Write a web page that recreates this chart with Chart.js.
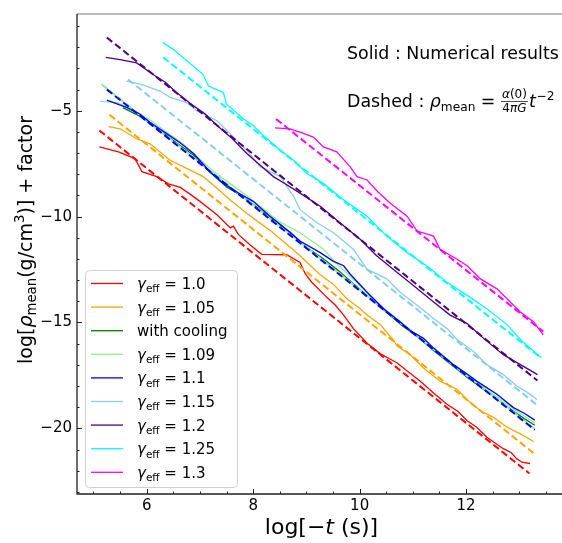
<!DOCTYPE html>
<html>
<head>
<meta charset="utf-8">
<script src="https://cdn.jsdelivr.net/npm/chart.js@4.4.1/dist/chart.umd.min.js"></script>
<style>
  html, body { margin: 0; padding: 0; background: #fff; overflow: hidden; }
  #wrap { width: 562px; height: 543px; overflow: hidden; }
  canvas { display: block; }
</style>
</head>
<body>
<div id="wrap"><canvas id="densityChart" width="580" height="543"></canvas></div>
<script>
// axis ticks
const xTicks = [6, 8, 10, 12];
const yTicks = [-5, -10, -15, -20];

// legend entries (gamma value, null = "with cooling")
const gammaLabels = ['1.0', '1.05', null, '1.09', '1.1', '1.15', '1.2', '1.25', '1.3'];
const colors = ['#ff0000', '#ffa500', '#008000', '#90ee90', '#0000ff', '#87ceeb', '#4b0082', '#00ffff', '#ff00ff'];

// solid: numerical results, [log(-t), log(rho) + factor]
const red = [[5.11,-6.71],[5.47,-6.94],[5.78,-7.26],[5.91,-7.88],[6.19,-8.11],[6.41,-8.45],[6.63,-8.62],[6.82,-8.95],[7.0,-9.28],[7.32,-9.91],[7.57,-10.53],[7.63,-10.45],[7.72,-10.84],[7.95,-11.35],[8.16,-11.78],[8.63,-11.8],[8.88,-12.16],[8.98,-12.71],[9.1,-13.1],[9.38,-13.8],[9.55,-14.2],[9.7,-14.65],[9.88,-15.28],[10.14,-15.98],[10.39,-16.48],[10.55,-16.7],[10.7,-16.9],[10.9,-17.3],[11.14,-17.77],[11.4,-18.35],[11.64,-18.86],[11.85,-19.2],[12.02,-19.64],[12.2,-19.95],[12.39,-20.42],[12.55,-20.7],[12.7,-20.96],[12.85,-21.15],[12.95,-21.43],[13.05,-21.6],[13.2,-21.66]];
const orange = [[5.28,-5.75],[5.5,-5.85],[5.81,-6.32],[6.06,-6.56],[6.25,-6.95],[6.44,-7.34],[6.75,-7.72],[7.06,-8.11],[7.32,-8.66],[7.57,-9.21],[7.82,-9.72],[8.07,-10.2],[8.32,-10.65],[8.57,-11.18],[8.88,-11.85],[9.07,-12.3],[9.26,-12.75],[9.51,-13.2],[9.76,-13.88],[10.01,-14.35],[10.14,-14.65],[10.39,-15.1],[10.64,-15.85],[10.7,-16.1],[10.95,-16.52],[11.2,-17.15],[11.51,-17.77],[11.83,-18.15],[12.02,-18.65],[12.27,-19.17],[12.52,-19.49],[12.77,-19.95],[13.02,-20.26],[13.27,-20.62]];
const cooling = [[5.55,-4.85],[5.87,-5.25],[6.2,-5.85],[6.5,-6.4],[6.88,-7.1],[7.19,-7.9],[7.5,-8.6],[7.8,-9.05],[8.1,-9.6],[8.4,-10.2],[8.7,-10.75],[9.0,-11.45],[9.3,-11.95],[9.6,-12.55],[9.9,-13.2],[10.2,-13.85],[10.5,-14.5],[10.8,-15.15],[11.1,-15.7],[11.4,-16.35],[11.7,-16.95],[12.0,-17.55],[12.3,-18.1],[12.6,-18.65],[12.9,-19.2],[13.1,-19.55],[13.29,-19.85]];
const lightgreen = [[5.12,-4.56],[5.45,-4.62],[5.8,-5.05],[6.1,-5.5],[6.4,-6.05],[6.7,-6.6],[7.0,-7.3],[7.3,-7.95],[7.6,-8.5],[7.9,-9.05],[8.2,-9.65],[8.5,-10.25],[8.88,-10.76],[9.32,-11.54],[9.6,-12.3],[9.9,-13.0],[10.2,-13.75],[10.5,-14.45],[10.8,-15.1],[11.1,-15.65],[11.4,-16.3],[11.7,-16.9],[12.0,-17.5],[12.3,-18.0],[12.6,-18.55],[12.9,-19.1],[13.29,-19.75]];
const blue = [[5.25,-4.5],[5.62,-4.84],[5.87,-5.15],[6.06,-5.54],[6.38,-6.09],[6.62,-6.5],[6.88,-7.02],[7.19,-7.88],[7.44,-8.43],[7.7,-8.85],[8.0,-9.28],[8.3,-9.95],[8.6,-10.55],[8.88,-11.15],[9.26,-11.7],[9.5,-12.1],[9.7,-12.32],[9.82,-12.71],[10.14,-13.57],[10.45,-14.35],[10.76,-14.97],[10.95,-15.38],[11.2,-15.75],[11.39,-16.21],[11.76,-16.99],[12.0,-17.4],[12.2,-17.77],[12.58,-18.39],[12.89,-19.02],[13.1,-19.3],[13.29,-19.61]];
const skyblue = [[5.62,-3.6],[5.9,-3.75],[6.25,-4.07],[6.44,-4.37],[6.75,-4.61],[6.94,-5.0],[7.32,-5.47],[7.57,-6.09],[7.88,-6.87],[8.13,-7.64],[8.51,-8.11],[8.76,-9.05],[8.88,-9.67],[9.2,-10.29],[9.51,-10.76],[9.88,-11.54],[10.14,-12.48],[10.51,-12.94],[10.76,-13.57],[11.08,-14.19],[11.39,-14.81],[11.64,-15.28],[11.83,-15.8],[12.14,-16.37],[12.39,-16.99],[12.7,-17.46],[12.95,-18.0],[13.15,-18.3],[13.33,-18.63]];
const indigo = [[5.23,-2.48],[5.5,-2.58],[5.81,-2.74],[6.12,-3.29],[6.35,-3.65],[6.56,-4.14],[6.88,-4.77],[7.1,-5.15],[7.32,-5.7],[7.6,-6.3],[7.88,-7.02],[8.1,-7.5],[8.38,-8.11],[8.6,-8.45],[8.88,-8.89],[9.26,-9.51],[9.63,-10.29],[10.01,-11.07],[10.32,-11.85],[10.7,-12.63],[11.01,-13.25],[11.39,-14.03],[11.7,-14.65],[12.02,-15.05],[12.33,-15.75],[12.7,-16.52],[13.02,-16.99],[13.2,-17.25],[13.34,-17.46]];
const cyan = [[6.3,-1.78],[6.5,-2.1],[6.69,-2.51],[6.88,-2.9],[7.06,-3.29],[7.16,-3.83],[7.44,-4.14],[7.5,-4.69],[7.82,-5.39],[8.0,-5.7],[8.19,-6.17],[8.51,-6.87],[8.76,-7.34],[9.01,-7.96],[9.32,-8.43],[9.7,-9.21],[10.14,-9.98],[10.51,-10.92],[10.89,-11.7],[11.26,-12.32],[11.64,-13.1],[12.02,-13.72],[12.39,-14.35],[12.77,-15.1],[13.02,-15.8],[13.2,-16.2],[13.41,-16.65]];
const magenta = [[8.41,-5.81],[8.69,-5.86],[8.88,-6.01],[9.13,-6.24],[9.32,-6.71],[9.57,-6.94],[9.82,-7.64],[9.95,-8.11],[10.14,-8.27],[10.35,-8.85],[10.57,-9.36],[10.89,-9.98],[11.08,-10.68],[11.39,-10.92],[11.51,-11.54],[11.83,-12.01],[12.02,-12.32],[12.27,-12.94],[12.58,-13.41],[12.83,-14.03],[13.02,-14.5],[13.27,-14.97],[13.45,-15.59]];

// dashed: analytic rho_mean ~ t^-2, start and end points (null = no dashed line)
const dashed = [
  [[5.11,-5.93],[13.19,-22.13]],
  [[5.30,-5.19],[13.27,-21.17]],
  null,
  [[5.15,-3.75],[13.29,-20.03]],
  [[5.25,-3.99],[13.29,-20.07]],
  [[5.65,-3.52],[13.33,-18.89]],
  [[5.25,-1.54],[13.34,-17.74]],
  [[6.31,-2.48],[13.41,-16.68]],
  [[8.43,-5.39],[13.45,-15.43]]
];

const solids = [red, orange, cooling, lightgreen, blue, skyblue, indigo, cyan, magenta];

const FONT = '"DejaVu Sans", sans-serif';
const toPts = arr => arr.map(p => ({ x: p[0], y: p[1] }));

// build datasets, later series on top (like matplotlib)
const datasets = [];
solids.forEach((s, i) => {
  datasets.push({
    data: toPts(s), borderColor: colors[i], borderWidth: 1.3,
    pointRadius: 0, tension: 0, fill: false, order: -(i * 2)
  });
  if (dashed[i]) {
    datasets.push({
      data: toPts(dashed[i]), borderColor: colors[i], borderWidth: 2,
      borderDash: [7, 3.5], pointRadius: 0, fill: false, order: -(i * 2 + 1)
    });
  }
});

// helpers for mathtext-like labels
function buildRuns(ctx, parts, base) {
  return parts.map(p => {
    const size = base * (p.s || 1);
    const font = (p.i ? 'italic ' : '') + size + 'px ' + FONT;
    ctx.font = font;
    return { t: p.t, font, dy: (p.dy || 0) * base, w: ctx.measureText(p.t).width, g: (p.g || 0) * base };
  });
}
function runsWidth(rs) { return rs.reduce((a, r) => a + r.w + r.g, 0); }
function drawRuns(ctx, rs, x, y) {
  let cx = x;
  rs.forEach(r => { cx += r.g; ctx.font = r.font; ctx.fillText(r.t, cx, y + r.dy); cx += r.w; });
  return cx;
}

const framePlugin = {
  id: 'frame',
  afterDraw(chart) {
    const ctx = chart.ctx;
    const { left, right, top, bottom } = chart.chartArea;
    const xs = chart.scales.x, ys = chart.scales.y;
    ctx.save();

    // spines
    ctx.lineCap = 'butt';
    ctx.strokeStyle = '#777';
    ctx.lineWidth = 1.2;
    ctx.beginPath(); ctx.moveTo(left, top); ctx.lineTo(right, top); ctx.stroke();
    ctx.strokeStyle = '#222';
    ctx.lineWidth = 1.3;
    ctx.beginPath(); ctx.moveTo(left, top); ctx.lineTo(left, bottom); ctx.lineTo(right, bottom); ctx.stroke();

    // inward ticks
    ctx.lineWidth = 1;
    ctx.beginPath();
    for (let v = 5; v <= 13.5; v += 0.5) {
      const px = Math.round(xs.getPixelForValue(v)) + 0.5;
      const len = xTicks.includes(v) ? 5 : 2.5;
      ctx.moveTo(px, bottom); ctx.lineTo(px, bottom - len);
    }
    for (let v = -1; v >= -23; v -= 1) {
      const py = Math.round(ys.getPixelForValue(v)) + 0.5;
      const len = yTicks.includes(v) ? 5 : 2.5;
      ctx.moveTo(left, py); ctx.lineTo(left + len, py);
    }
    ctx.stroke();

    ctx.fillStyle = '#000';
    ctx.textBaseline = 'alphabetic';
    ctx.textAlign = 'left';

    // legend
    const lx = 85, ly = 270, lw = 152, lh = 217;
    ctx.fillStyle = 'rgba(255,255,255,0.8)';
    ctx.strokeStyle = '#d0d0d0';
    ctx.lineWidth = 1;
    ctx.beginPath();
    ctx.roundRect(lx + 0.5, ly + 0.5, lw, lh, 4);
    ctx.fill(); ctx.stroke();
    gammaLabels.forEach((g, i) => {
      const cy = 283.5 + i * 23.6;
      ctx.strokeStyle = colors[i];
      ctx.lineWidth = 1.3;
      ctx.beginPath(); ctx.moveTo(91, cy); ctx.lineTo(123, cy); ctx.stroke();
      ctx.fillStyle = '#000';
      const parts = g === null
        ? [{ t: 'with cooling' }]
        : [{ t: 'γ', i: true }, { t: 'eff', s: 0.7, dy: 0.22 }, { t: ' = ' + g }];
      drawRuns(ctx, buildRuns(ctx, parts, 15), 137, cy + 5.5);
    });

    // annotations
    ctx.fillStyle = '#000';
    drawRuns(ctx, buildRuns(ctx, [{ t: 'Solid : Numerical results' }], 17.4), 347, 59);
    let cx = drawRuns(ctx, buildRuns(ctx, [
      { t: 'Dashed : ' }, { t: 'ρ', i: true }, { t: 'mean', s: 0.7, dy: 0.22 }, { t: ' = ' }
    ], 17.4), 347, 107);
    const num = buildRuns(ctx, [{ t: 'α', i: true }, { t: '(0)' }], 12);
    const den = buildRuns(ctx, [{ t: '4' }, { t: 'πG', i: true }], 12);
    const fw = Math.max(runsWidth(num), runsWidth(den)) + 2;
    drawRuns(ctx, num, cx + (fw - runsWidth(num)) / 2, 98);
    drawRuns(ctx, den, cx + (fw - runsWidth(den)) / 2, 112);
    ctx.strokeStyle = '#000'; ctx.lineWidth = 0.7;
    ctx.beginPath(); ctx.moveTo(cx, 101.5); ctx.lineTo(cx + fw, 101.5); ctx.stroke();
    cx += fw + 1;
    drawRuns(ctx, buildRuns(ctx, [{ t: 't', i: true }, { t: '−2', s: 0.7, dy: -0.42, g: 0.05 }], 17.4), cx, 107);

    // x title
    const xt = buildRuns(ctx, [{ t: 'log[−' }, { t: 't', i: true }, { t: ' (s)]' }], 22);
    drawRuns(ctx, xt, 321.5 - runsWidth(xt) / 2, 534);

    // y title
    const yt = buildRuns(ctx, [
      { t: 'log[' }, { t: 'ρ', i: true }, { t: 'mean', s: 0.7, dy: 0.22 }, { t: '(g/cm' },
      { t: '3', s: 0.7, dy: -0.4 }, { t: ')] + factor' }
    ], 19);
    ctx.translate(31.5, 240);
    ctx.rotate(-Math.PI / 2);
    drawRuns(ctx, yt, -runsWidth(yt) / 2, 0);

    ctx.restore();
  }
};

const ctx = document.getElementById('densityChart').getContext('2d');
new Chart(ctx, {
  type: 'line',
  data: { datasets },
  options: {
    responsive: false,
    animation: false,
    parsing: true,
    layout: { padding: { top: 9, right: 8, left: 0, bottom: 0 } },
    plugins: { legend: { display: false }, tooltip: { enabled: false } },
    scales: {
      x: {
        type: 'linear', min: 4.69, max: 13.99,
        grid: { display: false, drawTicks: false },
        border: { display: false },
        ticks: { font: { family: FONT, size: 15 }, color: '#000', padding: 3, maxRotation: 0 },
        afterBuildTicks: s => { s.ticks = xTicks.map(v => ({ value: v })); },
        afterFit: s => { s.height = 49; }
      },
      y: {
        type: 'linear', min: -23.1, max: -0.43,
        grid: { display: false, drawTicks: false },
        border: { display: false },
        ticks: {
          font: { family: FONT, size: 15 }, color: '#000', padding: 5,
          callback: v => String(v).replace('-', '−')
        },
        afterBuildTicks: s => { s.ticks = yTicks.map(v => ({ value: v })); },
        afterFit: s => { s.width = 77; }
      }
    }
  },
  plugins: [framePlugin]
});
</script>
</body>
</html>
